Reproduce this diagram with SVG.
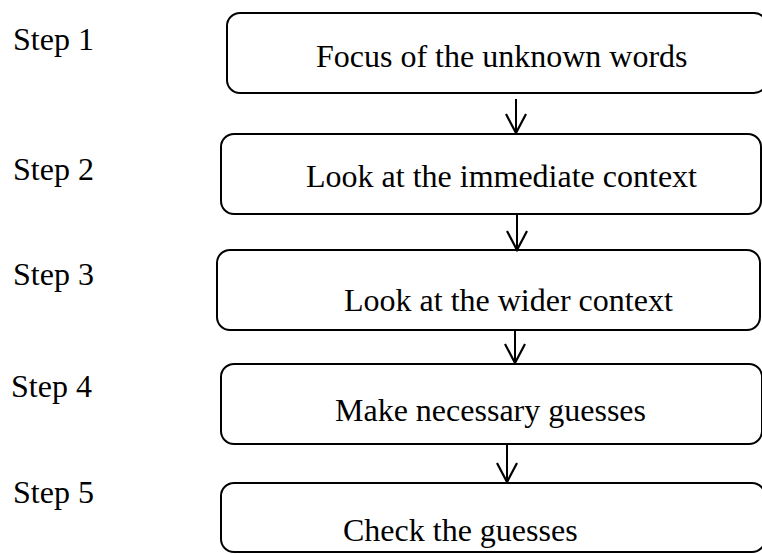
<svg xmlns="http://www.w3.org/2000/svg" width="762" height="554" viewBox="0 0 762 554">
<style>
.box{fill:#fff;stroke:#000;stroke-width:2}
.t{font-family:"Liberation Serif","Times New Roman",serif;font-size:32px;fill:#000}
.c{fill:none;stroke:#000;stroke-width:2}
</style>
<defs>
<marker id="ah" markerWidth="22" markerHeight="24" viewBox="0 0 22 24" refX="20" refY="12" orient="auto" markerUnits="userSpaceOnUse">
<path d="M1 2 L20 12 L1 22" fill="none" stroke="#000" stroke-width="2.2"/>
</marker>
</defs>
<rect width="762" height="554" fill="#fff"/>
<g id="labels">
<text class="t" x="13" y="50">Step 1</text>
<text class="t" x="13" y="180">Step 2</text>
<text class="t" x="13" y="285">Step 3</text>
<text class="t" x="11" y="397">Step 4</text>
<text class="t" x="13" y="503">Step 5</text>
</g>
<g id="node1">
<rect class="box" x="227" y="13" width="540" height="80" rx="13"/>
<text class="t" x="316" y="67">Focus of the unknown words</text>
</g>
<g id="node2">
<rect class="box" x="221" y="134" width="540" height="80" rx="13"/>
<text class="t" x="306" y="187">Look at the immediate context</text>
</g>
<g id="node3">
<rect class="box" x="217" y="250" width="543" height="80" rx="13"/>
<text class="t" x="344" y="311">Look at the wider context</text>
</g>
<g id="node4">
<rect class="box" x="221" y="364" width="541" height="80" rx="13"/>
<text class="t" x="335" y="421">Make necessary guesses</text>
</g>
<g id="node5">
<rect class="box" x="221" y="483" width="544" height="69" rx="13"/>
<text class="t" x="343" y="541">Check the guesses</text>
</g>
<g id="connectors">
<line class="c" x1="516" y1="99" x2="516" y2="133" marker-end="url(#ah)"/>
<line class="c" x1="517" y1="215" x2="517" y2="250" marker-end="url(#ah)"/>
<line class="c" x1="515" y1="331" x2="515" y2="363" marker-end="url(#ah)"/>
<line class="c" x1="507" y1="445" x2="507" y2="482" marker-end="url(#ah)"/>
</g>
</svg>
